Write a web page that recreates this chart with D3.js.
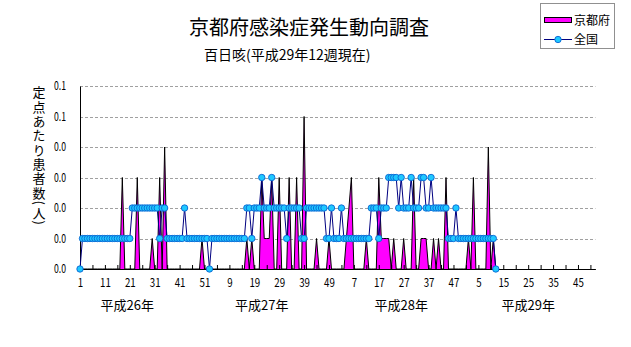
<!DOCTYPE html>
<html><head><meta charset="utf-8">
<script src="https://cdn.jsdelivr.net/npm/d3@7"></script>
<style>
body{margin:0;background:#fff}
svg{display:block}
text{font-family:"Noto Sans CJK JP","Noto Sans",sans-serif;fill:#000}
</style>
</head><body>
<svg id="chart" width="631" height="347"></svg>
<script>
// ---------- data ----------
const titleText = "京都府感染症発生動向調査";
const subtitleText = "百日咳(平成29年12週現在)";
const yTitleText = "定点あたり患者数(人)";
const seriesNames = ["京都府", "全国"];
const totalWeeks = 208; // 平成26年〜平成29年 (52 weeks each)

// 京都府 (per sentinel), 平成26年第1週 .. 平成29年第12週
const kyoto = [
  0,0,0,0,0,0,0,0,0,0,
  0,0,0,0,0,0,0,0.03,0,0,
  0,0,0,0.03,0,0,0,0,0,0.01,
  0,0,0.03,0,0.04,0,0,0,0,0,
  0,0,0,0,0,0,0,0,0,0.01,
  0,0,0,0,0,0,0,0,0,0,
  0,0,0,0,0,0,0,0.01,0,0.01,
  0,0,0,0.03,0.01,0.01,0.01,0.03,0,0,
  0.03,0,0,0,0.03,0,0,0.03,0,0,
  0.05,0,0,0,0,0.01,0,0,0,0,
  0.01,0,0,0,0,0,0,0.01,0.02,0.03,
  0,0,0,0,0,0.01,0,0,0,0,
  0.03,0.01,0.01,0.01,0.01,0,0.01,0,0,0,
  0.01,0,0,0,0.03,0,0,0.01,0.01,0.01,
  0,0,0.01,0,0.01,0,0,0.03,0,0,
  0,0,0,0,0,0,0.01,0,0.03,0,
  0,0,0,0,0.04,0,0.01,0
];

// 全国 (per sentinel)
const national = [
  0,0.01,0.01,0.01,0.01,0.01,0.01,0.01,0.01,0.01,
  0.01,0.01,0.01,0.01,0.01,0.01,0.01,0.01,0.01,0.01,
  0.01,0.02,0.02,0.02,0.02,0.02,0.02,0.02,0.02,0.02,
  0.02,0.02,0.01,0.02,0.02,0.01,0.01,0.01,0.01,0.01,
  0.01,0.01,0.02,0.01,0.01,0.01,0.01,0.01,0.01,0.01,
  0.01,0.01,0,0.01,0.01,0.01,0.01,0.01,0.01,0.01,
  0.01,0.01,0.01,0.01,0.01,0.01,0.01,0.02,0.02,0.01,
  0.02,0.02,0.02,0.03,0.02,0.02,0.02,0.03,0.02,0.02,
  0.02,0.02,0.02,0.01,0.02,0.02,0.02,0.02,0.02,0.01,
  0.01,0.02,0.02,0.02,0.02,0.02,0.02,0.02,0.02,0.01,
  0.01,0.02,0.01,0.01,0.01,0.02,0.01,0.01,0.01,0.01,
  0.01,0.01,0.01,0.01,0.01,0.01,0.01,0.02,0.02,0.02,
  0.01,0.02,0.02,0.02,0.03,0.03,0.03,0.03,0.02,0.03,
  0.02,0.02,0.02,0.03,0.02,0.02,0.02,0.03,0.03,0.02,
  0.02,0.03,0.02,0.02,0.02,0.02,0.02,0.02,0.01,0.01,
  0.01,0.02,0.01,0.01,0.01,0.01,0.01,0.01,0.01,0.01,
  0.01,0.01,0.01,0.01,0.01,0.01,0.01,0
];

const xTickWeeks  = [0,10,20,30,40,50,60,70,80,90,100,110,120,130,140,150,160,170,180,190,200];
const xTickLabels = ["1","11","21","31","41","51","9","19","29","39","49","7","17","27","37","47","5","15","25","35","45"];
const yTickValues = [0,0.01,0.02,0.03,0.04,0.05,0.06];
const yTickLabels = ["0.0","0.0","0.0","0.0","0.0","0.1","0.1"];
const yearLabels = ["平成26年","平成27年","平成28年","平成29年"];
const yearLabelWeeks = [19,73,129,180];

// ---------- layout ----------
const svg = d3.select("#chart");
const plot = {left:80, right:595.4, top:86, bottom:269};

const x = d3.scaleLinear().domain([0, totalWeeks-1]).range([plot.left, plot.right]);
const y = d3.scaleLinear().domain([0, 0.06]).range([plot.bottom, plot.top]);

// gridlines
svg.append("g").selectAll("line")
  .data(yTickValues.filter(v => v > 0))
  .join("line")
  .attr("x1", plot.left).attr("x2", plot.right)
  .attr("y1", d => Math.round(y(d)) + 0.5).attr("y2", d => Math.round(y(d)) + 0.5)
  .attr("stroke", "#a0a0a0").attr("stroke-width", 1)
  .attr("stroke-dasharray", "3,2");

// Kyoto area
const idx = d3.range(kyoto.length);
const area = d3.area().x(i => x(i)).y0(y(0)).y1(i => y(kyoto[i]));
const line = d3.line().x(i => x(i)).y(i => y(kyoto[i]));
svg.append("path").datum(idx).attr("d", area).attr("fill", "#ff00ff");
svg.append("path").datum(idx).attr("d", line).attr("fill", "none")
  .attr("stroke", "#000").attr("stroke-width", 1);

// axes
const yAxis = d3.axisLeft(y).tickValues(yTickValues)
  .tickFormat((d, i) => yTickLabels[i]).tickSize(0).tickSizeOuter(0).tickPadding(14);
const gy = svg.append("g").attr("transform", `translate(${plot.left},0)`).call(yAxis);
gy.select(".domain").attr("stroke", "#000");
gy.selectAll("text").attr("font-size", 12).attr("font-family", "Liberation Sans, sans-serif")
  .attr("textLength", 12).attr("lengthAdjust", "spacingAndGlyphs");

const minorAxis = d3.axisBottom(x).tickValues(d3.range(0, totalWeeks, 5))
  .tickSize(-4).tickSizeOuter(0).tickFormat("");
const gm = svg.append("g").attr("transform", `translate(0,${plot.bottom})`).call(minorAxis);
gm.select(".domain").remove();
gm.selectAll("line").attr("stroke", "#000");

const xAxis = d3.axisBottom(x).tickValues(xTickWeeks)
  .tickFormat((d, i) => xTickLabels[i]).tickSize(0).tickSizeOuter(0);
const gx = svg.append("g").attr("transform", `translate(0,${plot.bottom})`).call(xAxis);
gx.select(".domain").attr("stroke", "#000");
gx.selectAll("text").attr("y", 18).attr("dy", 0)
  .attr("font-size", 12).attr("font-family", "Liberation Sans, sans-serif")
  .attr("textLength", function(){ return this.textContent.length * 5.4; })
  .attr("lengthAdjust", "spacingAndGlyphs");

// national line + markers
const nline = d3.line().x(i => x(i)).y(i => y(national[i]));
svg.append("path").datum(d3.range(national.length)).attr("d", nline)
  .attr("fill", "none").attr("stroke", "#000080").attr("stroke-width", 1);
svg.append("g").selectAll("circle").data(d3.range(national.length)).join("circle")
  .attr("cx", i => x(i)).attr("cy", i => y(national[i])).attr("r", 3.2)
  .attr("fill", "#1ec8ff").attr("stroke", "#0a64d2").attr("stroke-width", 0.9);

// year labels
svg.append("g").selectAll("text").data(yearLabels).join("text")
  .attr("x", (d, i) => x(yearLabelWeeks[i])).attr("y", 310)
  .attr("text-anchor", "middle").attr("font-size", 13).text(d => d);

// titles
svg.append("text").attr("x", 309).attr("y", 35).attr("text-anchor", "middle")
  .attr("font-size", 20).text(titleText);
svg.append("text").attr("x", 204).attr("y", 60).attr("text-anchor", "start")
  .attr("font-size", 14).text(subtitleText);

// vertical y-axis title (single text element, vertical writing mode)
svg.append("text")
  .attr("x", 39).attr("y", 86)
  .attr("font-size", 13)
  .style("writing-mode", "vertical-rl")
  .style("letter-spacing", "1.3px")
  .text(yTitleText);

// legend
const lg = svg.append("g");
lg.append("rect").attr("x", 540.5).attr("y", 3.5).attr("width", 74).attr("height", 45)
  .attr("fill", "#fff").attr("stroke", "#909090");
lg.append("rect").attr("x", 544.5).attr("y", 17.5).attr("width", 27).attr("height", 5)
  .attr("fill", "#ff00ff").attr("stroke", "#000").attr("stroke-width", 1);
lg.append("text").attr("x", 574).attr("y", 25).attr("font-size", 12).text(seriesNames[0]);
lg.append("line").attr("x1", 544).attr("x2", 572).attr("y1", 39.5).attr("y2", 39.5)
  .attr("stroke", "#000080");
lg.append("circle").attr("cx", 558).attr("cy", 39.5).attr("r", 3.2)
  .attr("fill", "#1ec8ff").attr("stroke", "#0a64d2").attr("stroke-width", 0.9);
lg.append("text").attr("x", 574).attr("y", 44).attr("font-size", 12).text(seriesNames[1]);
</script>
</body></html>
